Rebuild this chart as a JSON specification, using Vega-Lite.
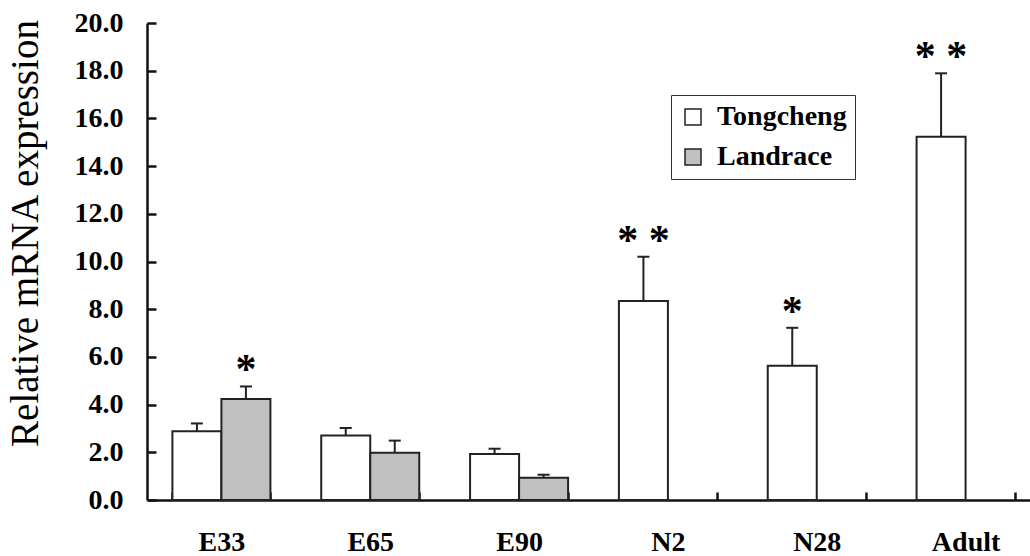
{
  "$schema": "https://vega.github.io/schema/vega-lite/v6.json",
  "width": 884,
  "height": 477,
  "autosize": {"type": "none"},
  "padding": {"left": 147, "top": 23, "right": 0, "bottom": 56},
  "background": "white",
  "config": {"view": {"stroke": null}, "font": "Liberation Serif"},
  "data": {
    "values": [
      {"stage": "E33", "breed": "Tongcheng", "mean": 2.88, "upper": 3.21, "sig": ""},
      {"stage": "E33", "breed": "Landrace", "mean": 4.23, "upper": 4.76, "sig": "*"},
      {"stage": "E65", "breed": "Tongcheng", "mean": 2.7, "upper": 3.02, "sig": ""},
      {"stage": "E65", "breed": "Landrace", "mean": 1.98, "upper": 2.49, "sig": ""},
      {"stage": "E90", "breed": "Tongcheng", "mean": 1.93, "upper": 2.15, "sig": ""},
      {"stage": "E90", "breed": "Landrace", "mean": 0.93, "upper": 1.06, "sig": ""},
      {"stage": "N2", "breed": "Tongcheng", "mean": 8.34, "upper": 10.2, "sig": "* *"},
      {"stage": "N28", "breed": "Tongcheng", "mean": 5.63, "upper": 7.22, "sig": "*"},
      {"stage": "Adult", "breed": "Tongcheng", "mean": 15.23, "upper": 17.89, "sig": "* *"}
    ]
  },
  "encoding": {
    "x": {
      "field": "stage",
      "type": "nominal",
      "sort": ["E33", "E65", "E90", "N2", "N28", "Adult"],
      "scale": {"range": [0, 893], "paddingInner": 0.3415, "paddingOuter": 0.1707},
      "axis": {
        "title": null,
        "labelAngle": 0,
        "tickBand": "extent",
        "tickSize": -8,
        "tickWidth": 2.5,
        "tickColor": "#111",
        "domainColor": "#111",
        "domainWidth": 2.5,
        "labelFont": "Liberation Serif",
        "labelFontWeight": "bold",
        "labelFontSize": 28,
        "labelColor": "#000",
        "labelBaseline": "alphabetic",
        "labelPadding": 58
      }
    },
    "xOffset": {
      "field": "breed",
      "type": "nominal",
      "sort": ["Tongcheng", "Landrace"],
      "scale": {"domain": ["Tongcheng", "Landrace"], "paddingInner": 0, "paddingOuter": 0}
    }
  },
  "layer": [
    {
      "mark": {"type": "bar", "stroke": "#222", "strokeWidth": 2},
      "encoding": {
        "y": {
          "field": "mean",
          "type": "quantitative",
          "scale": {"domain": [0, 20], "nice": false},
          "axis": {
            "title": "Relative mRNA expression",
            "values": [0, 2, 4, 6, 8, 10, 12, 14, 16, 18, 20],
            "format": ".1f",
            "grid": false,
            "tickSize": -9,
            "tickWidth": 2.5,
            "tickColor": "#111",
            "domainColor": "#111",
            "domainWidth": 2.5,
            "labelFont": "Liberation Serif",
            "labelFontWeight": "bold",
            "labelFontSize": 28,
            "labelColor": "#000",
            "labelPadding": 33,
            "titleFont": "Liberation Serif",
            "titleFontWeight": "normal",
            "titleFontSize": 39,
            "titleColor": "#000",
            "titleAngle": -90,
            "titleBaseline": "alphabetic",
            "titleAlign": "center",
            "titleX": -110,
            "titleY": 210
          }
        },
        "fill": {
          "field": "breed",
          "type": "nominal",
          "sort": ["Tongcheng", "Landrace"],
          "scale": {"domain": ["Tongcheng", "Landrace"], "range": ["#ffffff", "#c0c0c0"]},
          "legend": {
            "title": null,
            "orient": "none",
            "legendX": 524,
            "legendY": 72,
            "direction": "vertical",
            "padding": 8,
            "strokeColor": "#333",
            "fillColor": "white",
            "labelFont": "Liberation Serif",
            "labelFontWeight": "bold",
            "labelFontSize": 28,
            "labelColor": "#000",
            "labelOffset": 10,
            "symbolType": "square",
            "symbolSize": 256,
            "symbolStrokeColor": "#222",
            "symbolStrokeWidth": 1.5,
            "rowPadding": 12
          }
        }
      }
    },
    {
      "mark": {"type": "rule", "stroke": "#222", "strokeWidth": 2},
      "encoding": {
        "y": {"field": "mean", "type": "quantitative"},
        "y2": {"field": "upper"}
      }
    },
    {
      "mark": {"type": "tick", "color": "#222", "thickness": 2, "size": 12, "opacity": 1},
      "encoding": {
        "y": {"field": "upper", "type": "quantitative"}
      }
    },
    {
      "mark": {"type": "text", "font": "Liberation Serif", "fontSize": 42, "fontWeight": "bold", "baseline": "alphabetic", "align": "center", "dy": -3, "color": "#000"},
      "encoding": {
        "y": {"field": "upper", "type": "quantitative"},
        "text": {"field": "sig"}
      }
    }
  ]
}
